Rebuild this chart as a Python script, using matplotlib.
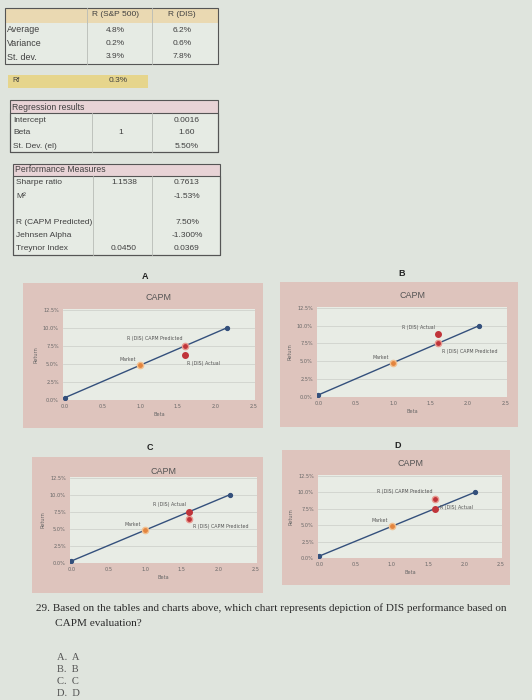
import matplotlib
matplotlib.use("Agg")
import matplotlib.pyplot as plt
from matplotlib.patches import Rectangle
from matplotlib.ticker import FuncFormatter, MultipleLocator

W, H = 532, 700

# ---- table data ----
stat_cols = ["R (S&P 500)", "R (DIS)"]
stat_rows = ["Average", "Variance", "St. dev."]
sp500_stats = ["4.8%", "0.2%", "3.9%"]
dis_stats = ["6.2%", "0.6%", "7.8%"]
rf_value = "0.3%"

reg_rows = ["Intercept", "Beta", "St. Dev. (el)"]
reg_sp500 = ["", "1", ""]
reg_dis = ["0.0016", "1.60", "5.50%"]

perf_rows = ["Sharpe ratio", "M²", "", "R (CAPM Predicted)", "Jehnsen Alpha", "Treynor Index"]
perf_sp500 = ["1.1538", "", "", "", "", "0.0450"]
perf_dis = ["0.7613", "-1.53%", "", "7.50%", "-1.300%", "0.0369"]

# ---- chart data ----
chart_names = ["A", "B", "C", "D"]
sml_beta = [0.0, 2.15]
sml_return = [0.3, 10.0]
market_beta = 1.0
market_return = 4.8
dis_beta = 1.6
dis_actual = [6.2, 8.8, 7.5, 7.5]
dis_predicted = [7.5, 7.5, 6.5, 9.0]

question = "29. Based on the tables and charts above, which chart represents depiction of DIS performance based on"
question2 = "CAPM evaluation?"
options = ["A.  A", "B.  B", "C.  C", "D.  D"]

page_bg = "#dfe4dd"
frame_bg = "#dec4bd"
plot_bg = "#e8ece5"
txt = "#404040"
tfont = ["Liberation Sans", "DejaVu Sans"]

fig = plt.figure(figsize=(W / 100, H / 100), dpi=100)
fig.patch.set_facecolor(page_bg)


def fx(x):
    return x / W


def fy(y):
    return 1 - y / H


def rect(x0, y0, x1, y1, fc="none", ec="none", lw=0.8):
    fig.patches.append(Rectangle((fx(x0), fy(y1)), fx(x1) - fx(x0), fy(y0) - fy(y1),
                                 transform=fig.transFigure, fc=fc, ec=ec, lw=lw, zorder=-5))


def vline(x, y0, y1, c="#b8bcb6"):
    fig.add_artist(plt.Line2D([fx(x), fx(x)], [fy(y0), fy(y1)], color=c, lw=0.6,
                              transform=fig.transFigure))


def t(x, y, s, ha="left", size=6.0, **kw):
    fig.text(fx(x), fy(y), s, ha=ha, va="center", fontsize=size, color=txt,
             family=tfont, **kw)


# top stats table
rect(5, 8, 218, 23, fc="#ead9b2")
rect(5, 23, 218, 64, fc="#e6ebe4")
rect(5, 8, 218, 64, ec="#555555")
vline(87, 23, 64)
vline(152, 8, 64)
vline(87, 8, 23)
t(115, 15, stat_cols[0], ha="center")
t(182, 15, stat_cols[1], ha="center")
for i, name in enumerate(stat_rows):
    y = 30 + i * 13.5
    t(7, y, name, size=6.4)
    t(115, y, sp500_stats[i], ha="center")
    t(182, y, dis_stats[i], ha="center")

# risk free
rect(8, 75, 148, 88, fc="#e6d58c")
t(12, 81, "Rf", size=5.2)
t(118, 81, rf_value, ha="center")

# regression table
rect(10, 100, 218, 113, fc="#e8d3d6")
rect(10, 113, 218, 152, fc="#e6ebe4")
rect(10, 100, 218, 152, ec="#555555")
rect(10, 113, 218, 152, ec="#555555")
vline(92, 113, 152)
vline(152, 113, 152)
t(12, 107, "Regression results", size=6.2)
for i, name in enumerate(reg_rows):
    y = 120 + i * 13
    t(13, y, name)
    t(121, y, reg_sp500[i], ha="center")
    t(187, y, reg_dis[i], ha="center")

# performance table
rect(13, 164, 220, 176, fc="#e8d3d6")
rect(13, 176, 220, 255, fc="#e6ebe4")
rect(13, 164, 220, 255, ec="#555555")
rect(13, 176, 220, 255, ec="#555555")
vline(93, 176, 255)
vline(152, 176, 255)
t(15, 170, "Performance Measures", size=6.2)
for i, name in enumerate(perf_rows):
    y = 183 + i * 13.1
    t(16, y, name)
    t(124, y, perf_sp500[i], ha="center")
    t(187, y, perf_dis[i], ha="center")

# chart layouts: (letter x, letter y, frame box, plot box)
layouts = [
    (145, 276, (23, 283, 263, 428), (63, 309, 255, 400)),
    (402, 273, (280, 282, 518, 427), (317, 307, 507, 397)),
    (150, 448, (32, 457, 263, 593), (70, 477, 257, 563)),
    (398, 445, (282, 450, 510, 585), (318, 475, 502, 558)),
]
# label placement for (predicted, actual): offsets in points
label_pos = [
    (((-2, 5), "right"), ((1, -6), "left")),
    (((3, -6), "left"), ((-2, 5), "right")),
    (((3, -6), "left"), ((-2, 5), "right")),
    (((-2, 5), "right"), ((3, 1), "left")),
]

for k, name in enumerate(chart_names):
    lx, ly, fr, pl = layouts[k]
    fig.text(fx(lx), fy(ly), name, ha="center", va="center", fontsize=6.5,
             color="#222222", family=tfont, weight="bold")
    rect(fr[0], fr[1], fr[2], fr[3], fc=frame_bg)
    fig.text(fx((pl[0] + pl[2]) / 2), fy(fr[1] + 14), "CAPM", ha="center",
             va="center", fontsize=6.5, color="#555555", family=tfont)
    ax = fig.add_axes([fx(pl[0]), fy(pl[3]), fx(pl[2]) - fx(pl[0]), fy(pl[1]) - fy(pl[3])])
    ax.set_facecolor(plot_bg)
    ax.set_xlim(-0.02, 2.52)
    ax.set_ylim(0, 12.6)
    ax.xaxis.set_major_locator(MultipleLocator(0.5))
    ax.yaxis.set_major_locator(MultipleLocator(2.5))
    ax.xaxis.set_major_formatter(FuncFormatter(lambda v, p: f"{v:.1f}"))
    ax.yaxis.set_major_formatter(FuncFormatter(lambda v, p: f"{v:.1f}%"))
    ax.grid(axis="y", color="#cacdc7", lw=0.5)
    ax.set_axisbelow(True)
    for s in ax.spines.values():
        s.set_visible(False)
    ax.tick_params(length=0, labelsize=3.6, colors="#666666", pad=3)
    ax.set_xlabel("Beta", fontsize=3.6, color="#666666", labelpad=2)
    ax.set_ylabel("Return", fontsize=3.6, color="#666666", labelpad=3)

    ax.plot(sml_beta, sml_return, color="#34507c", lw=1.0, marker="o", ms=2.8, zorder=2)
    ax.plot(market_beta, market_return, "o", color="#e3853f", ms=4.5, mec="#f2c08f", zorder=3)
    ax.annotate("Market", (market_beta, market_return), xytext=(-3, 3),
                textcoords="offset points", ha="right", fontsize=3.4, color="#555555")
    ax.plot(dis_beta, dis_predicted[k], "o", color="#c0343a", ms=4.5, mec="#e89a90", zorder=3)
    ax.plot(dis_beta, dis_actual[k], "o", color="#c0343a", ms=4, zorder=3)
    (po, pha), (ao, aha) = label_pos[k]
    ax.annotate("R (DIS) CAPM Predicted", (dis_beta, dis_predicted[k]), xytext=po,
                textcoords="offset points", ha=pha, va="center", fontsize=3.4, color="#555555")
    ax.annotate("R (DIS) Actual", (dis_beta, dis_actual[k]), xytext=ao,
                textcoords="offset points", ha=aha, va="center", fontsize=3.4, color="#555555")

# question text
serif = ["Liberation Serif", "DejaVu Serif"]
fig.text(fx(36), fy(608), question, ha="left", va="center", fontsize=8.1,
         color="#2a2a2a", family=serif)
fig.text(fx(55), fy(623), question2, ha="left", va="center", fontsize=8.1,
         color="#2a2a2a", family=serif)
for i, o in enumerate(options):
    fig.text(fx(57), fy(657 + i * 12.3), o, ha="left", va="center", fontsize=7.6,
             color="#555555", family=serif)

fig.savefig("out.png", dpi=100, facecolor=fig.get_facecolor())
